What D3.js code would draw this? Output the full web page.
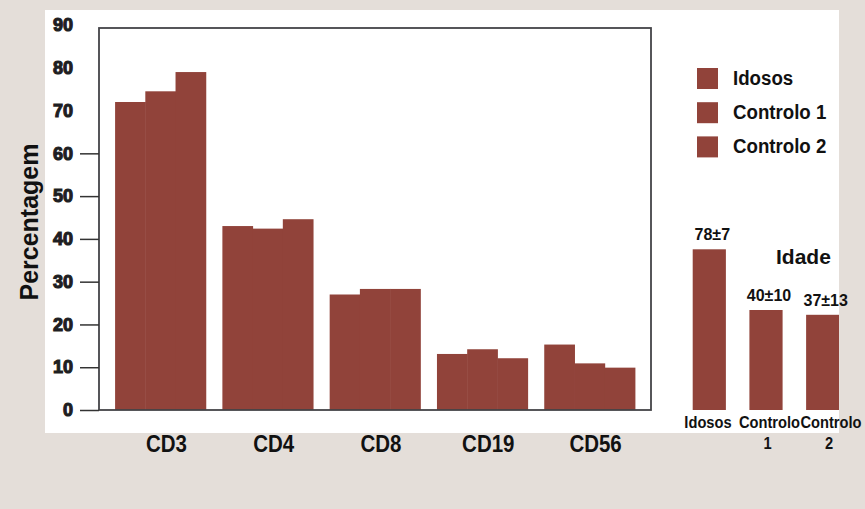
<!DOCTYPE html>
<html>
<head>
<meta charset="utf-8">
<script src="https://cdn.jsdelivr.net/npm/d3@7"></script>
<style>
  body { margin: 0; background: #e4ded9; }
  text { font-family: "Liberation Sans", Arial, sans-serif; font-weight: bold; fill: #111; }
</style>
</head>
<body>
<div id="canvas"></div>
<script>
// main chart data (percent of lymphocytes)
const categories = ["CD3", "CD4", "CD8", "CD19", "CD56"];
const groups = ["Idosos", "Controlo 1", "Controlo 2"];
const idosos = [72, 43, 27, 13.1, 15.3];
const controlo1 = [74.5, 42.4, 28.3, 14.2, 10.9];
const controlo2 = [79, 44.6, 28.3, 12.1, 9.9];
const yTicks = [0, 10, 20, 30, 40, 50, 60, 70, 80, 90];

// age inset
const ageGroups = ["Idosos", "Controlo 1", "Controlo 2"];
const ageMean = [78, 40, 37];
const ageSd = [7, 10, 13];

const width = 865
const height = 509
const color = "#91433a"
const sx = 0.89   // the original face is a condensed gothic

const svg = d3.select("#canvas").append("svg")
    .attr("width", width)
    .attr("height", height)

svg.append("rect").attr("width", width).attr("height", height).style("fill", "#e4ded9")
svg.append("rect").attr("x", 45).attr("y", 10).attr("width", 794).attr("height", 423).style("fill", "#fff")

// squeeze text horizontally while keeping its anchor point
function squeeze(sel, xf) {
    sel.each(function(d, i) {
        const t = d3.select(this)
        const px = xf(d, i)
        t.attr("x", px / sx).attr("transform", `scale(${sx},1)`)
    })
}

const plot = {left: 99, right: 651, top: 28, bottom: 410}

const x = d3.scaleBand()
    .domain(categories)
    .range([plot.left, plot.right])
    .paddingInner(0.155)
    .paddingOuter(0.15)

const xs = d3.scaleBand()
    .domain(groups)
    .range([0, x.bandwidth()])

const y = d3.scaleLinear()
    .domain([0, 90])
    .range([plot.bottom, 25])

const series = [idosos, controlo1, controlo2]
const rows = []
categories.forEach((c, i) => {
    groups.forEach((g, j) => rows.push({cat: c, group: g, value: series[j][i]}))
})

const g = svg.append("g")

g.selectAll("rect.bar").data(rows).enter().append("rect")
    .attr("class", "bar")
    .attr("x", d => x(d.cat) + xs(d.group))
    .attr("y", d => y(d.value))
    .attr("width", xs.bandwidth() + 0.5)
    .attr("height", d => y(0) - y(d.value))
    .style("fill", color)

// frame
svg.append("rect")
    .attr("x", plot.left).attr("y", plot.top)
    .attr("width", plot.right - plot.left).attr("height", plot.bottom - plot.top)
    .style("fill", "none").style("stroke", "#444448").style("stroke-width", 1.8)

// y axis
const yAxis = svg.append("g")
    .attr("transform", `translate(${plot.left},0)`)
    .call(d3.axisLeft(y).tickValues(yTicks).tickSize(19).tickPadding(7))
yAxis.select(".domain").remove()
yAxis.selectAll(".tick line").style("stroke", "#333").style("stroke-width", 1.5)
    .filter(d => d > 60).remove()
yAxis.selectAll(".tick text")
    .style("font-size", "18px")
    .style("font-family", "Liberation Sans, Arial, sans-serif")
    .style("font-weight", "bold")
    .style("fill", "#1e1e22")
    .style("stroke", "#1e1e22").style("stroke-width", 1.1)

// x labels
svg.selectAll("text.xlab").data(categories).enter().append("text")
    .attr("class", "xlab")
    .attr("y", 452)
    .attr("text-anchor", "middle")
    .style("font-size", "23px")
    .text(d => d)
    .call(squeeze, d => x(d) + x.bandwidth() / 2 + 6)

svg.append("text")
    .attr("transform", "translate(38,222) rotate(-90)")
    .attr("text-anchor", "middle")
    .style("font-size", "25px")
    .text("Percentagem")

// legend
const legend = svg.append("g").attr("transform", "translate(697,68)")
const li = legend.selectAll("g").data(groups).enter().append("g")
    .attr("transform", (d, i) => `translate(0,${i * 34.2})`)
li.append("rect").attr("width", 21).attr("height", 21).style("fill", color)
li.append("text").attr("y", 17).style("font-size", "21px").text(d => d)
    .call(squeeze, () => 36)

// age inset
const xa = d3.scaleBand()
    .domain(ageGroups)
    .range([692.7, 837.3])
    .paddingInner(0.45)
    .paddingOuter(0)

// category names under the inset sit on a wider spacing than the bars
const xl = d3.scalePoint()
    .domain(ageGroups)
    .range([708, 831])

// inset bars are not drawn to a zero baseline in the original
const ya = d3.scaleLinear()
    .domain([-22.6, 78])
    .range([plot.bottom, 249.3])

const ages = ageGroups.map((d, i) => ({group: d, mean: ageMean[i], sd: ageSd[i]}))

svg.append("clipPath").attr("id", "panel").append("rect")
    .attr("x", 45).attr("y", 10).attr("width", 794).attr("height", 423)

svg.append("g").attr("clip-path", "url(#panel)")
    .selectAll("rect").data(ages).enter().append("rect")
    .attr("x", d => xa(d.group))
    .attr("y", d => ya(d.mean))
    .attr("width", xa.bandwidth() + 2)
    .attr("height", d => ya(-22.6) - ya(d.mean))
    .style("fill", color)

svg.selectAll("text.age").data(ages).enter().append("text")
    .attr("class", "age")
    .attr("x", d => xa(d.group) + xa.bandwidth() / 2 + 4)
    .attr("y", d => ya(d.mean) - 9)
    .attr("text-anchor", "middle")
    .style("font-size", "16px")
    .text(d => `${d.mean}±${d.sd}`)

svg.append("text")
    .attr("x", 776).attr("y", 264)
    .style("font-size", "21px")
    .text("Idade")

const lab = svg.selectAll("text.alab").data(ages).enter().append("text")
    .attr("class", "alab")
    .attr("text-anchor", "middle")
    .attr("transform", `scale(${sx},1)`)
    .style("font-size", "16.5px")
lab.each(function(d) {
    const parts = d.group.split(" ")
    const cx = xl(d.group) / sx
    parts.forEach((p, k) => {
        d3.select(this).append("tspan").attr("x", cx - k * 2 / sx).attr("y", 428 + k * 21).text(p)
    })
})
</script>
</body>
</html>
